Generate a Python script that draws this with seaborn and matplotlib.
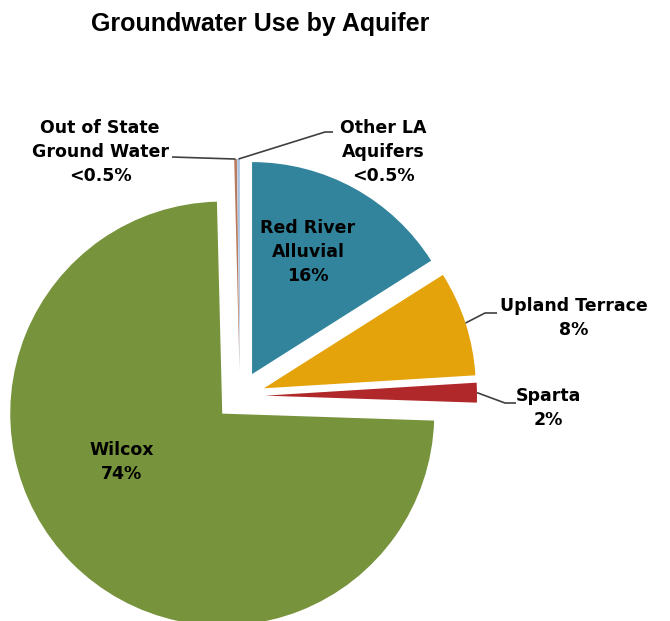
import matplotlib
matplotlib.use('Agg')
import matplotlib.pyplot as plt
import seaborn as sns
import numpy as np

# slices in drawing order (clockwise from 12 o'clock)
aquifers = ['Red River\nAlluvial', 'Upland Terrace', 'Sparta', 'Wilcox',
            'Out of State\nGround Water', 'Other LA\nAquifers']
use_pct = [16, 8, 1.5, 74, 0.2, 0.2]
pct_labels = ['16%', '8%', '2%', '74%', '<0.5%', '<0.5%']
colors = ['#31849B', '#E4A30A', '#B0282A', '#77933C', '#B87A5E', '#A9C2E0']

sns.set_theme(style='white')
plt.rcParams['font.family'] = ['DejaVu Sans']
plt.rcParams['text.color'] = 'black'

fig = plt.figure(figsize=(6.7, 6.21), dpi=100)
ax = fig.add_axes([0, 0, 1, 1])

wedges, _ = ax.pie(use_pct, colors=sns.color_palette(colors), startangle=90,
                   counterclock=False, radius=212, center=(240, 225),
                   explode=[25] * len(use_pct),
                   wedgeprops=dict(linewidth=0, antialiased=True))
ax.set_xlim(0, 670)
ax.set_ylim(0, 621)
ax.set_aspect('equal')
ax.axis('off')


def arc_point(w):
    # outer point of a wedge at its middle angle
    mid = np.deg2rad((w.theta1 + w.theta2) / 2)
    cx, cy = w.center
    return cx + w.r * np.cos(mid), cy + w.r * np.sin(mid)


lab_kw = dict(ha='center', va='center', fontsize=12.5, fontweight='bold',
              color='black', linespacing=1.45)

# label positions (layout only)
label_pos = {
    'Red River\nAlluvial': (308, 369),
    'Upland Terrace': (574, 303),
    'Sparta': (548, 213),
    'Wilcox': (122, 159),
    'Out of State\nGround Water': (100, 469),
    'Other LA\nAquifers': (383, 469),
}
for name, pct in zip(aquifers, pct_labels):
    x, y = label_pos[name]
    ax.text(x, y, f'{name}\n{pct}', **lab_kw)

# leader lines: wedge -> elbow -> label
leaders = {
    'Upland Terrace': [(485, 308), (497, 308)],
    'Sparta': [(505, 218), (516, 218)],
    'Out of State\nGround Water': [(172, 464)],
    'Other LA\nAquifers': [(325, 489), (333, 489)],
}
for name, pts in leaders.items():
    w = wedges[aquifers.index(name)]
    path = [arc_point(w)] + pts
    xs, ys = zip(*path)
    ax.plot(xs, ys, color='#404040', lw=1.2, solid_capstyle='butt')

ax.text(260, 597, 'Groundwater Use by Aquifer', ha='center', va='center',
        fontsize=18, fontweight='bold', color='black',
        family=['Liberation Sans', 'DejaVu Sans'])

fig.savefig('out.png', dpi=100)
